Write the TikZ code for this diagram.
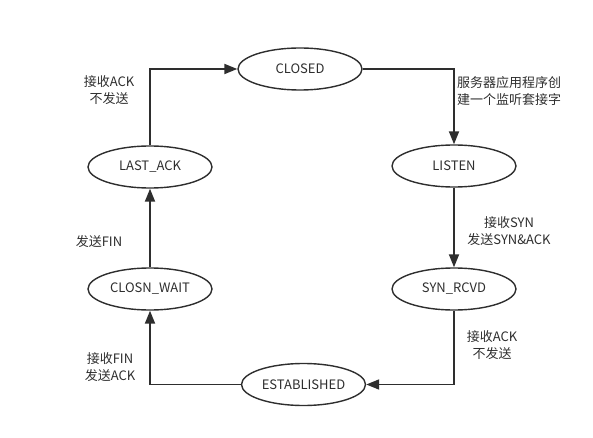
\documentclass[tikz,border=0pt]{standalone}
\usepackage{fontspec}
\setmainfont{Noto Sans CJK SC}
\usetikzlibrary{arrows.meta,shapes.geometric}
\definecolor{ink}{HTML}{2E2E2E}
\begin{document}
\begin{tikzpicture}[x=1pt,y=-1pt,
  state/.style={draw=ink,line width=1.4pt,ellipse,minimum width=124pt,minimum height=42pt,inner sep=0pt,text=ink,font=\fontsize{13}{15}\selectfont},
  conn/.style={draw=ink,line width=1.8pt,-{Triangle[length=13pt,width=10pt]}},
  lbl/.style={text=ink,font=\fontsize{13}{16.5}\selectfont,align=center,inner sep=0pt}]
\useasboundingbox (0,0) rectangle (593,438);
\node[state] (closed) at (300,69) {CLOSED};
\node[state] (listen) at (454,166) {LISTEN};
\node[state] (synrcvd) at (454,289) {SYN\_RCVD};
\node[state] (est) at (303.5,384.5) {ESTABLISHED};
\node[state] (closewait) at (150,289) {CLOSN\_WAIT};
\node[state] (lastack) at (150,167) {LAST\_ACK};
\draw[conn] (closed.east) -| (listen.north);
\draw[conn] (listen.south) -- (synrcvd.north);
\draw[conn] (synrcvd.south) |- (est.east);
\draw[conn] (est.west) -| (closewait.south);
\draw[conn] (closewait.north) -- (lastack.south);
\draw[conn] (lastack.north) |- (closed.west);
\node[lbl] (l1) at (109,90) {接收ACK\\不发送};
\node[lbl,anchor=west,align=left] (l2) at (457,91) {服务器应用程序创\\建一个监听套接字};
\node[lbl] (l3) at (509,231) {接收SYN\\发送SYN\&ACK};
\node[lbl] (l4) at (99,242) {发送FIN};
\node[lbl] (l5) at (110,367) {接收FIN\\发送ACK};
\node[lbl] (l6) at (492,345) {接收ACK\\不发送};
\end{tikzpicture}
\end{document}
